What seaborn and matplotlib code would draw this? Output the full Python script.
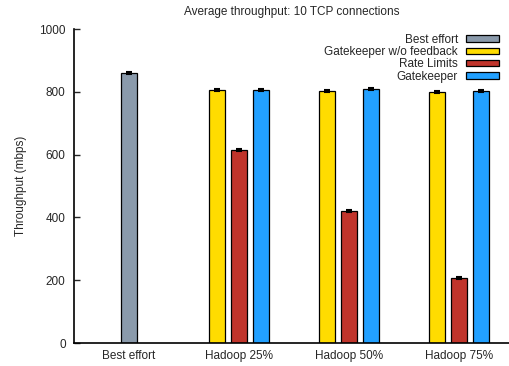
import matplotlib
matplotlib.use("Agg")
import matplotlib.pyplot as plt
import seaborn as sns
import pandas as pd

# Scenario labels along the x axis
scenarios = ["Best effort", "Hadoop 25%", "Hadoop 50%", "Hadoop 75%"]
series = ["Best effort", "Gatekeeper w/o feedback", "Rate Limits", "Gatekeeper"]

# Average throughput (mbps) per scheme, None where the scheme was not run
best_effort = [860, None, None, None]
gk_no_feedback = [None, 806, 803, 800]
rate_limits = [None, 616, 419, 206]
gatekeeper = [None, 807, 808, 802]
errors = [3, 3, 3, 3]

colors = {
    "Best effort": "#8a9aab",
    "Gatekeeper w/o feedback": "#ffdc00",
    "Rate Limits": "#c0342b",
    "Gatekeeper": "#22a0ff",
}

# Offsets of each scheme inside its scenario group
offsets = {"Best effort": 0.0, "Gatekeeper w/o feedback": -0.2,
           "Rate Limits": 0.0, "Gatekeeper": 0.2}

rows = []
for name, vals in zip(series, [best_effort, gk_no_feedback, rate_limits, gatekeeper]):
    for i, v in enumerate(vals):
        if v is not None:
            rows.append({"pos": i + offsets[name], "value": v, "scheme": name})
df = pd.DataFrame(rows)

sns.set_style("ticks")
plt.rcParams["font.family"] = ["Liberation Sans", "DejaVu Sans"]

fig = plt.figure(figsize=(5.10, 3.66), dpi=100)
ax = fig.add_axes([74 / 510, 1 - 343 / 366, 436 / 510, (343 - 29) / 366])

sns.barplot(data=df, x="pos", y="value", hue="scheme", hue_order=series,
            palette=colors, native_scale=True, dodge=False, width=0.77,
            edgecolor="black", linewidth=0.9, saturation=1, ax=ax)

ax.errorbar(df["pos"], df["value"], yerr=errors[0], fmt="none",
            ecolor="black", elinewidth=1.2, capsize=2.5, capthick=1.5)

ax.set_xlim(-0.5, -0.5 + 436 / 110)
ax.set_ylim(0, 1000)
ax.set_yticks([0, 200, 400, 600, 800, 1000])
ax.set_xticks(range(len(scenarios)))
ax.set_xticklabels(scenarios)
ax.tick_params(axis="y", direction="in", length=4, width=1, labelsize=8.5, pad=6)
ax.tick_params(axis="x", length=0, labelsize=8.5, pad=5)
ax.set_xlabel("")
ax.set_ylabel("Throughput (mbps)", fontsize=8.5, labelpad=9)
ax.set_title("Average throughput: 10 TCP connections", fontsize=8.5, pad=10)
for side in ["top", "right"]:
    ax.spines[side].set_visible(False)
for side in ["left", "bottom"]:
    ax.spines[side].set_linewidth(1.2)
    ax.spines[side].set_color("black")

handles, labels = ax.get_legend_handles_labels()
leg = ax.legend(handles, labels, loc="upper right", bbox_to_anchor=(0.992, 1.008),
                frameon=False, markerfirst=False, fontsize=8.5,
                handlelength=2.8, handleheight=0.45, labelspacing=0.03,
                handletextpad=0.7, borderaxespad=0.2)

fig.savefig("out.png", dpi=100)
